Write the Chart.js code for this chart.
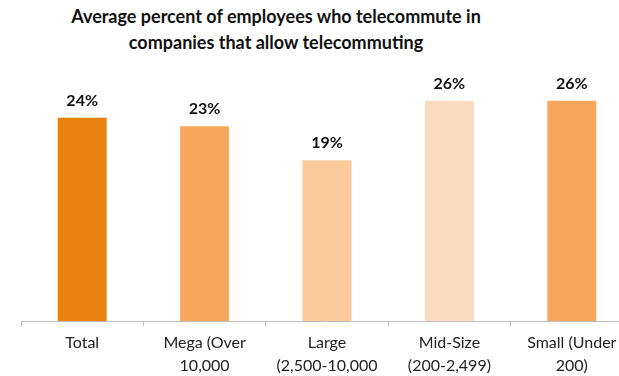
<!DOCTYPE html>
<html lang="en">
<head>
    <meta charset="UTF-8">
    <title>Telecommuting by company size</title>
    <script src="https://cdn.jsdelivr.net/npm/chart.js"></script>
    <style>
        * {
            margin: 0;
            padding: 0;
            box-sizing: border-box;
        }

        body {
            width: 619px;
            height: 376px;
            overflow: hidden;
            background: #fff;
            position: relative;
            font-family: 'Lato', sans-serif;
        }

        #title {
            position: absolute;
            left: 0;
            top: 3px;
            width: 552px;
            text-align: center;
            font-weight: bold;
            font-size: 18px;
            line-height: 26px;
            color: #111;
        }

        .wrap {
            position: absolute;
            left: 0;
            top: 0;
            width: 640px;
            height: 376px;
        }
    </style>
</head>
<body>
<div id="title">Average percent of employees who telecommute in<br>companies that allow telecommuting</div>
<div class="wrap"><canvas id="chart"></canvas></div>

<script>
    const categories = [
        ['Total'],
        ['Mega (Over', '10,000'],
        ['Large', '(2,500-10,000'],
        ['Mid-Size', '(200-2,499)'],
        ['Small (Under', '200)']
    ];
    const percents = [24, 23, 19, 26, 26];
    const barColors = ['#E8810E', '#F7A75B', '#FBCA9C', '#FCDCC1', '#F7A75B'];

    // value labels above each bar
    const valueLabels = {
        id: 'valueLabels',
        afterDatasetsDraw(chart) {
            const ctx = chart.ctx;
            const meta = chart.getDatasetMeta(0);
            ctx.save();
            ctx.font = 'bold 16px Lato, sans-serif';
            ctx.fillStyle = '#111';
            ctx.textAlign = 'center';
            ctx.textBaseline = 'bottom';
            meta.data.forEach((bar, i) => {
                ctx.fillText(percents[i] + '%', bar.x, bar.y - 9);
            });
            ctx.restore();
        }
    };

    new Chart(document.getElementById('chart'), {
        type: 'bar',
        data: {
            labels: categories,
            datasets: [{
                data: percents,
                backgroundColor: barColors,
                borderWidth: 0,
                barPercentage: 0.4,
                categoryPercentage: 1
            }]
        },
        options: {
            responsive: true,
            maintainAspectRatio: false,
            animation: false,
            layout: {
                padding: { top: 67, left: 21, right: 7, bottom: 0 }
            },
            plugins: {
                legend: { display: false },
                tooltip: { enabled: false }
            },
            scales: {
                x: {
                    grid: {
                        offset: true,
                        drawOnChartArea: false,
                        color: '#BFBFBF',
                        tickLength: 5
                    },
                    border: { color: '#BFBFBF', width: 1 },
                    ticks: {
                        color: '#222',
                        padding: 6,
                        maxRotation: 0,
                        autoSkip: false,
                        font: { family: 'Lato, sans-serif', size: 16, lineHeight: 1.4 }
                    },
                    afterFit(scale) {
                        scale.height = 55;
                    }
                },
                y: {
                    display: false,
                    min: 0,
                    max: 30
                }
            }
        },
        plugins: [valueLabels]
    });
</script>
</body>
</html>
